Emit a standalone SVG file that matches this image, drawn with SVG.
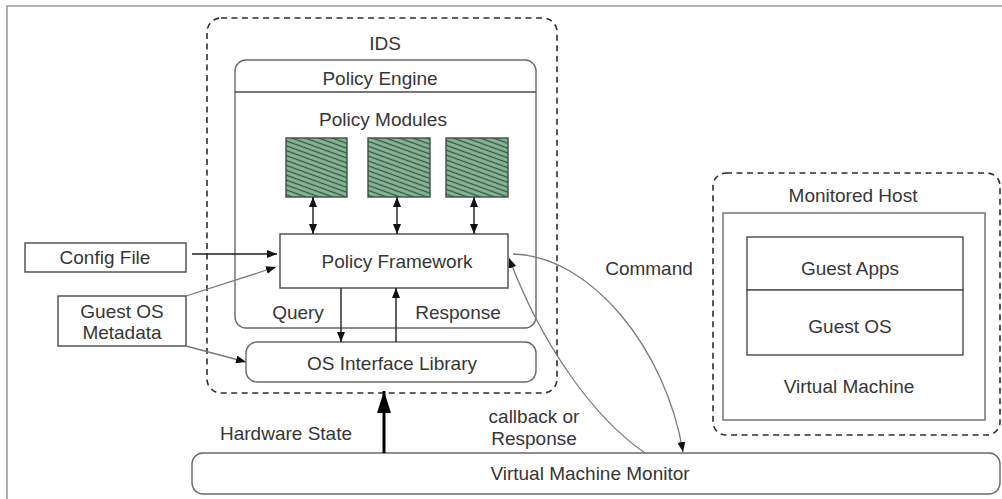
<svg xmlns="http://www.w3.org/2000/svg" width="1002" height="499" viewBox="0 0 1002 499">
  <style>
    text { font-family: "Liberation Sans", Arial, sans-serif; font-size: 19px; fill: #363636; text-anchor: middle; }
    .box { fill: #ffffff; stroke: #4a4a4a; stroke-width: 1.4; }
    .soft { fill: #ffffff; stroke: #6a6a6a; stroke-width: 1.4; }
    .dash { fill: none; stroke: #2e2e2e; stroke-width: 1.6; stroke-dasharray: 6 4.5; }
    .module { fill: url(#hatch); stroke: #3f4f45; stroke-width: 1.4; }
    .wire { fill: none; stroke: #1e1e1e; stroke-width: 1.4; }
    .grey { fill: none; stroke: #7a7a7a; stroke-width: 1.3; }
    .thick { fill: none; stroke: #000000; stroke-width: 3; }
  </style>
  <defs>
    <pattern id="hatch" patternUnits="userSpaceOnUse" width="12" height="4.6" patternTransform="rotate(20)">
      <rect width="12" height="4.6" fill="#8ab496"/>
      <line x1="0" y1="2.3" x2="12" y2="2.3" stroke="#2f5640" stroke-width="1.3"/>
    </pattern>
    <marker id="tip" viewBox="0 0 10 8" refX="10" refY="4" markerWidth="10" markerHeight="8" markerUnits="userSpaceOnUse" orient="auto-start-reverse">
      <path d="M0,0 L10,4 L0,8 Z" fill="#111111"/>
    </marker>
    <marker id="bigtip" viewBox="0 0 22 14" refX="22" refY="7" markerWidth="22" markerHeight="14" markerUnits="userSpaceOnUse" orient="auto">
      <path d="M0,0 L22,7 L0,14 Z" fill="#000000"/>
    </marker>
  </defs>

  <!-- page frame -->
  <path d="M7,499 L7,6 L1002,6" fill="none" stroke="#9a9a9a" stroke-width="1.6"/>

  <!-- IDS container -->
  <g id="ids">
    <rect class="dash" x="207" y="18" width="350" height="375" rx="14"/>
    <text x="385" y="50">IDS</text>
  </g>

  <!-- policy engine -->
  <g id="policy-engine">
    <rect class="soft" x="235" y="60" width="301" height="268" rx="11"/>
    <line x1="235" y1="92" x2="536" y2="92" stroke="#4a4a4a" stroke-width="1.3"/>
    <text x="380" y="85">Policy Engine</text>
    <text x="383" y="126">Policy Modules</text>
  </g>

  <g id="module-1"><rect class="module" x="286" y="138" width="61" height="59"/></g>
  <g id="module-2"><rect class="module" x="368" y="138" width="62" height="59"/></g>
  <g id="module-3"><rect class="module" x="446" y="138" width="62" height="59"/></g>

  <g id="policy-framework">
    <rect class="box" x="280" y="234" width="228" height="54"/>
    <text x="397" y="268">Policy Framework</text>
  </g>

  <g id="os-interface-library">
    <rect class="soft" x="246" y="342" width="290" height="40" rx="11"/>
    <text x="392" y="370">OS Interface Library</text>
  </g>

  <g id="config-file">
    <rect class="box" x="25" y="243" width="161" height="29"/>
    <text x="105" y="264">Config File</text>
  </g>

  <g id="guest-os-metadata">
    <rect class="box" x="58" y="296" width="128" height="50"/>
    <text x="122" y="318">Guest OS</text>
    <text x="122" y="339">Metadata</text>
  </g>

  <!-- monitored host -->
  <g id="monitored-host">
    <rect class="dash" x="713" y="173" width="287" height="262" rx="13"/>
    <text x="853" y="202">Monitored Host</text>
  </g>

  <g id="virtual-machine">
    <rect class="soft" x="723" y="213" width="262" height="207"/>
    <text x="849" y="393">Virtual Machine</text>
  </g>

  <g id="guest-apps">
    <rect class="box" x="747" y="237" width="216" height="53"/>
    <text x="850" y="275">Guest Apps</text>
  </g>

  <g id="guest-os">
    <rect class="box" x="747" y="290" width="216" height="65"/>
    <text x="850" y="333">Guest OS</text>
  </g>

  <g id="vmm">
    <rect class="soft" x="192" y="453" width="808" height="41" rx="11"/>
    <text x="590" y="480">Virtual Machine Monitor</text>
  </g>

  <!-- connectors -->
  <g id="connectors">
    <line class="wire" x1="313" y1="197" x2="313" y2="234" marker-start="url(#tip)" marker-end="url(#tip)"/>
    <line class="wire" x1="397" y1="197" x2="397" y2="234" marker-start="url(#tip)" marker-end="url(#tip)"/>
    <line class="wire" x1="474" y1="197" x2="474" y2="234" marker-start="url(#tip)" marker-end="url(#tip)"/>

    <line class="wire" x1="341" y1="288" x2="341" y2="342" marker-end="url(#tip)"/>
    <line class="wire" x1="396" y1="342" x2="396" y2="288" marker-end="url(#tip)"/>

    <line class="wire" x1="192" y1="254" x2="277" y2="254" marker-end="url(#tip)"/>
    <line class="grey" x1="186" y1="296" x2="276" y2="267" marker-end="url(#tip)"/>
    <line class="grey" x1="186" y1="346" x2="246" y2="362" marker-end="url(#tip)"/>

    <line class="thick" x1="384" y1="453" x2="384" y2="391" marker-end="url(#bigtip)"/>

    <path class="grey" d="M513,254 C592,256 666,350 683,452" marker-end="url(#tip)"/>
    <path class="grey" d="M645,453 C590,415 540,340 509,258" marker-end="url(#tip)"/>
  </g>

  <!-- connector labels -->
  <text x="298" y="319">Query</text>
  <text x="458" y="319">Response</text>
  <text x="649" y="275">Command</text>
  <text x="286" y="440">Hardware State</text>
  <text x="534" y="423">callback or</text>
  <text x="534" y="445">Response</text>
</svg>
